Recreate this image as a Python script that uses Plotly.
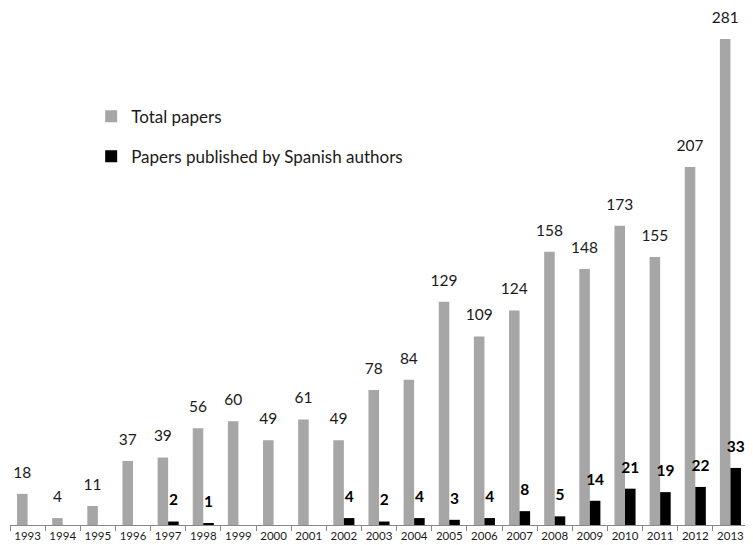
import plotly.graph_objects as go

years = [str(y) for y in range(1993, 2014)]
total_papers = [18, 4, 11, 37, 39, 56, 60, 49, 61, 49, 78, 84, 129, 109, 124, 158, 148, 173, 155, 207, 281]
spanish_papers = [0, 0, 0, 0, 2, 1, 0, 0, 0, 4, 2, 4, 3, 4, 8, 5, 14, 21, 19, 22, 33]

total_text = [str(v) for v in total_papers]
spanish_text = [str(v) if v > 0 else "" for v in spanish_papers]

FONT = "Lato, Open Sans, sans-serif"

fig = go.Figure()
fig.add_trace(go.Bar(
    x=years, y=total_papers, name="Total papers",
    marker=dict(color="#a6a6a6", line=dict(width=0)),
    offsetgroup="a", legendgroup="a",
))
fig.add_trace(go.Bar(
    x=years, y=spanish_papers, name="Papers published by Spanish authors",
    marker=dict(color="#000000", line=dict(width=0)),
    offsetgroup="b", legendgroup="b",
))
# value labels, placed above the bars
fig.add_trace(go.Scatter(
    x=years, y=total_papers, mode="markers+text", text=total_text,
    textposition="top center", offsetgroup="a", showlegend=False,
    marker=dict(size=18, opacity=0), hoverinfo="skip", cliponaxis=False,
    textfont=dict(size=15.5, color="#1a1a1a", family=FONT),
))
fig.add_trace(go.Scatter(
    x=years, y=spanish_papers, mode="markers+text", text=spanish_text,
    textposition="top center", offsetgroup="b", showlegend=False,
    marker=dict(size=18, opacity=0), hoverinfo="skip", cliponaxis=False,
    textfont=dict(size=15.5, color="#000000", family=FONT, weight="bold"),
))

fig.update_layout(
    width=753, height=545,
    margin=dict(l=2, r=13, t=10, b=28, autoexpand=False),
    paper_bgcolor="white", plot_bgcolor="white",
    barmode="group", bargap=0.4, bargroupgap=0,
    scattermode="group", scattergap=0.4,
    font=dict(family=FONT, color="#1a1a1a"),
    legend=dict(
        x=0.11, y=0.841, xanchor="left", yanchor="top",
        font=dict(size=17, family=FONT, color="#1a1a1a"),
        tracegroupgap=15, bgcolor="rgba(0,0,0,0)",
        itemsizing="constant",
    ),
    xaxis=dict(
        type="category", showline=True, linecolor="#888888", linewidth=1,
        ticks="outside", tickson="boundaries", ticklen=5, tickcolor="#888888",
        tickangle=0, automargin=False,
        tickfont=dict(size=11.5, family=FONT, color="#1a1a1a"),
        showgrid=False, zeroline=False,
    ),
    yaxis=dict(
        range=[0, 293.1], visible=False, showgrid=False, zeroline=False,
    ),
)

fig.write_html("out.html")
